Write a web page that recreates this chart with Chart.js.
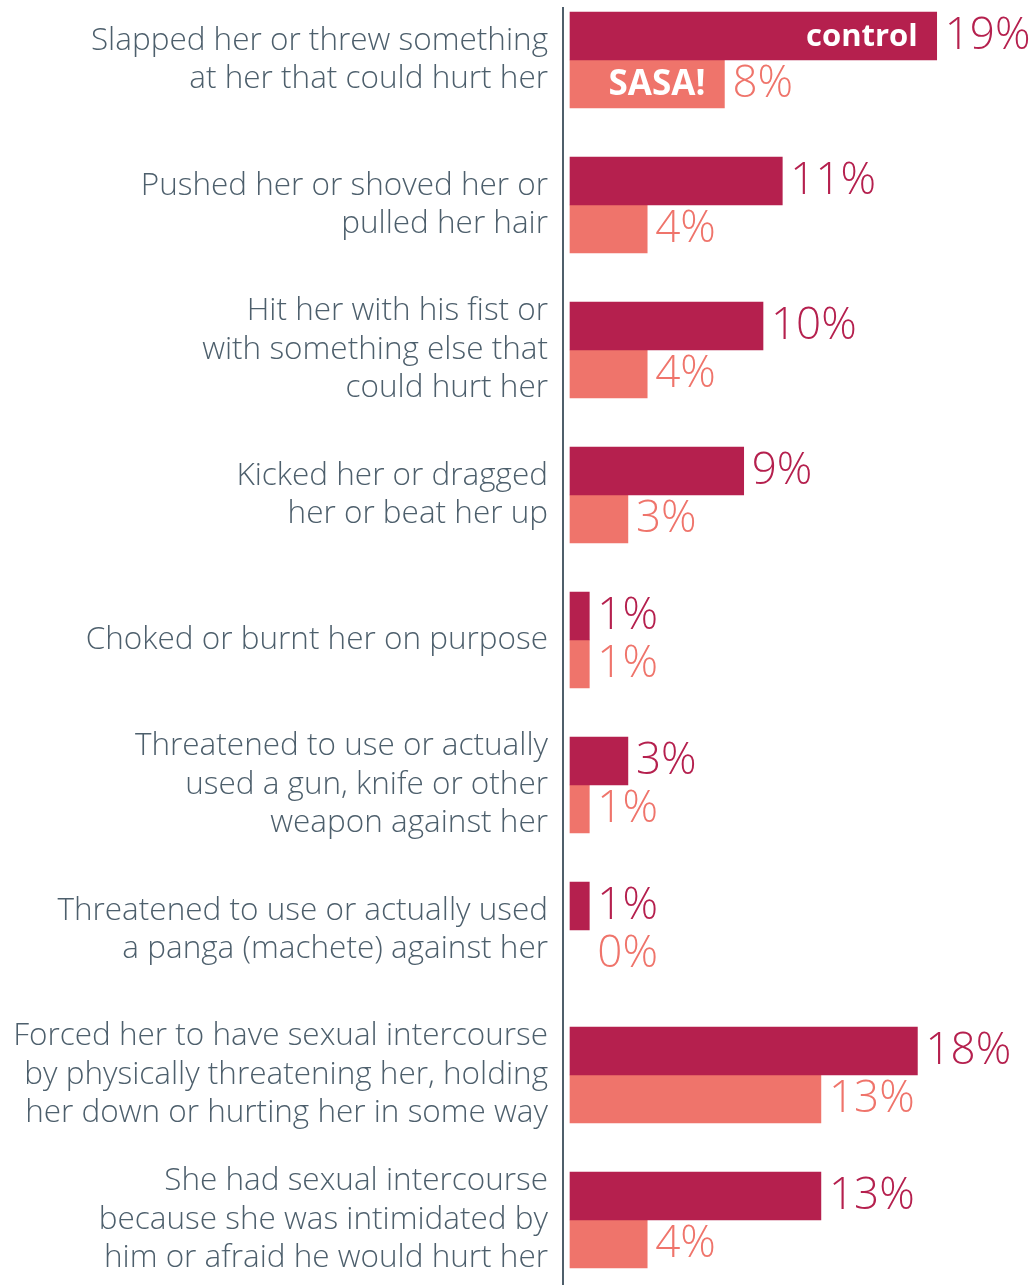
<!DOCTYPE html>
<html>
<head>
<meta charset="utf-8">
<script src="https://cdn.jsdelivr.net/npm/chart.js@4.4.1/dist/chart.umd.min.js"></script>
<style>
    html, body { margin: 0; padding: 0; background: #ffffff; }
    #wrap { position: relative; width: 1032px; height: 1285px; }
</style>
</head>
<body>
<div id="wrap"><canvas id="violenceChart"></canvas></div>
<script>
const categories = [
    ['Slapped her or threw something', 'at her that could hurt her'],
    ['Pushed her or shoved her or', 'pulled her hair'],
    ['Hit her with his fist or', 'with something else that', 'could hurt her'],
    ['Kicked her or dragged', 'her or beat her up'],
    ['Choked or burnt her on purpose'],
    ['Threatened to use or actually', 'used a gun, knife or other', 'weapon against her'],
    ['Threatened to use or actually used', 'a panga (machete) against her'],
    ['Forced her to have sexual intercourse', 'by physically threatening her, holding', 'her down or hurting her in some way'],
    ['She had sexual intercourse', 'because she was intimidated by', 'him or afraid he would hurt her']
];
const controlValues = [19, 11, 10, 9, 1, 3, 1, 18, 13];
const sasaValues = [8, 4, 4, 3, 1, 1, 0, 13, 4];
const seriesNames = ['control', 'SASA!'];

const seriesColors = ['#b5204e', '#ef746b'];
const textColor = '#4d5f6c';
const fontFamily = "'Open Sans', Roboto, sans-serif";

// eje vertical: desde encima de la primera barra hasta el borde inferior
const axisLine = {
    id: 'axisLine',
    beforeDatasetsDraw(chart) {
        const c = chart.ctx;
        const x = chart.chartArea.left;
        const top = chart.scales.y.getPixelForValue(0) - 53;
        c.save();
        c.strokeStyle = '#4f5f6b';
        c.lineWidth = 2;
        c.beginPath();
        c.moveTo(x, top);
        c.lineTo(x, chart.height);
        c.stroke();
        c.restore();
    }
};

// etiquetas de valor y nombres de serie dentro de la primera pareja de barras
const valueLabels = {
    id: 'valueLabels',
    afterDatasetsDraw(chart) {
        const c = chart.ctx;
        const xScale = chart.scales.x;
        const minX = xScale.getPixelForValue(1);
        chart.data.datasets.forEach((ds, i) => {
            const meta = chart.getDatasetMeta(i);
            meta.data.forEach((bar, j) => {
                const v = ds.data[j];
                const end = v === 0 ? minX : bar.x;
                c.save();
                c.fillStyle = seriesColors[i];
                c.font = '300 44px ' + fontFamily;
                c.textAlign = 'left';
                c.textBaseline = 'middle';
                c.fillText(v + '%', end + 8, bar.y);
                if (j === 0) {
                    c.fillStyle = '#ffffff';
                    c.font = 'bold ' + (i === 0 ? 31 : 35) + 'px ' + fontFamily;
                    c.textAlign = 'right';
                    c.fillText(seriesNames[i], bar.x - 19, bar.y + 1);
                }
                c.restore();
            });
        });
    }
};

const barColor = i => (context => context.raw === 0 ? 'rgba(0,0,0,0)' : seriesColors[i]);

const ctx = document.getElementById('violenceChart').getContext('2d');
const violenceChart = new Chart(ctx, {
    type: 'bar',
    data: {
        labels: categories,
        datasets: [{
            label: seriesNames[0],
            data: controlValues,
            backgroundColor: barColor(0),
            borderWidth: 0,
            clip: false
        }, {
            label: seriesNames[1],
            data: sasaValues,
            backgroundColor: barColor(1),
            borderWidth: 0,
            clip: false
        }]
    },
    options: {
        indexAxis: 'y',
        responsive: true,
        maintainAspectRatio: false,
        animation: false,
        barThickness: 48,
        layout: {
            padding: { top: 60, bottom: 65, left: 0, right: 0 }
        },
        plugins: {
            legend: { display: false },
            tooltip: { enabled: false }
        },
        scales: {
            x: {
                display: false,
                min: -0.3627,
                max: 23.938
            },
            y: {
                offset: false,
                grid: { display: false, drawTicks: false },
                border: { display: false },
                ticks: {
                    color: textColor,
                    padding: 15,
                    font: { family: fontFamily, size: 31.5, weight: 300, lineHeight: 1.222 }
                },
                afterFit(scale) {
                    scale.width = 563;
                    scale.paddingTop = 0;
                    scale.paddingBottom = 0;
                }
            }
        }
    },
    plugins: [axisLine, valueLabels]
});
</script>
</body>
</html>
